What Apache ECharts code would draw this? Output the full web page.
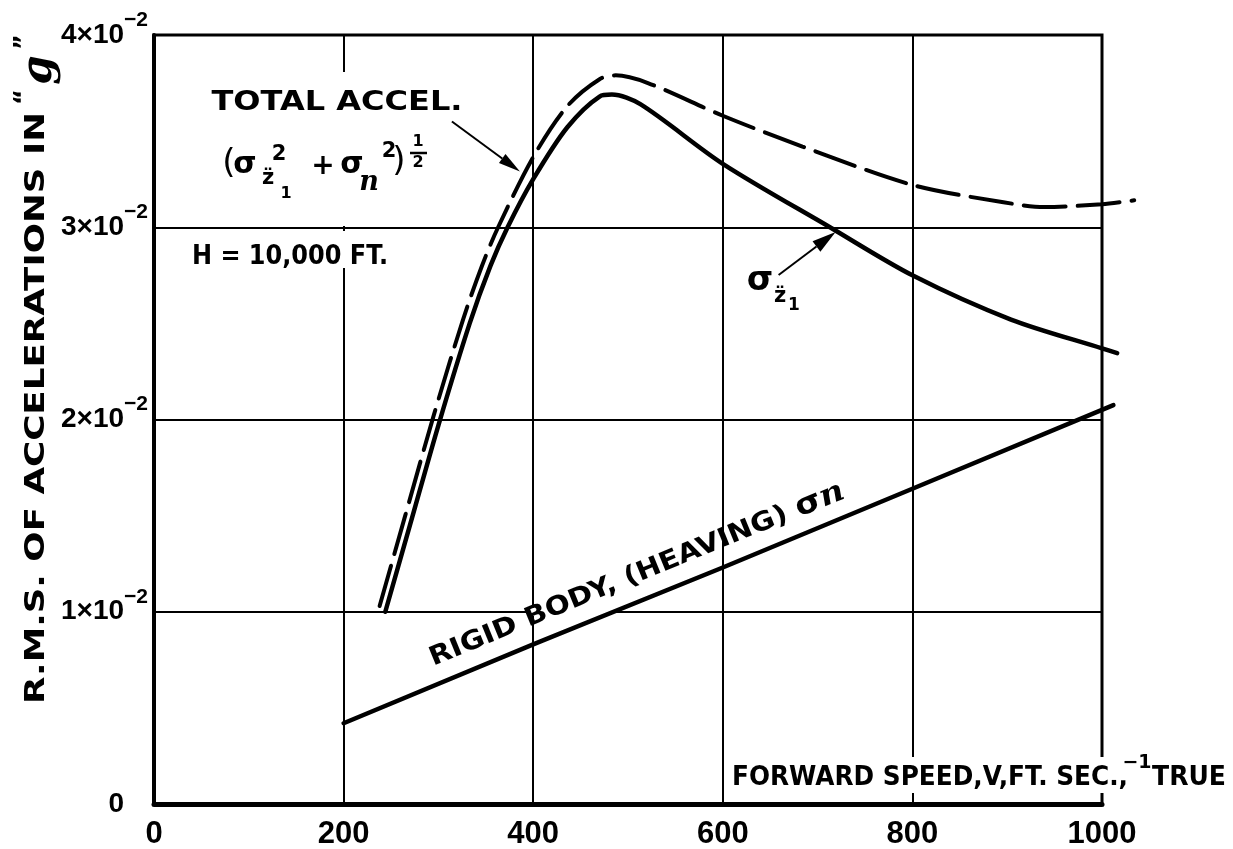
<!DOCTYPE html>
<html>
<head>
<meta charset="utf-8">
<script src="https://cdn.jsdelivr.net/npm/echarts/dist/echarts.min.js"></script>
<style>
  html, body { margin: 0; padding: 0; background: #fff; }
  #chart { width: 1233px; height: 849px; }
</style>
</head>
<body>
<div id="chart"></div>
<script>
// R.M.S. accelerations against forward speed, H = 10,000 ft.
// Speeds in ft/sec (true), accelerations in units of 10^-2 g.
const speedTicks = [0, 200, 400, 600, 800, 1000];
const accelTicks = [0, 1, 2, 3, 4];
// the curves run on a little past the 1000 ft/sec frame line
const curveSpeedMax = 1040;

// total acceleration (sigma_z1^2 + sigma_n^2)^(1/2), dashed
const totalAccel = [
  [238, 1.03], [265, 1.50], [295, 2.02], [326, 2.52], [346, 2.80], [363, 3.00],
  [400, 3.365], [436, 3.63], [470, 3.77], [487, 3.79], [521, 3.75], [600, 3.58],
  [684, 3.42], [800, 3.22], [896, 3.13], [939, 3.105], [1000, 3.12], [1034, 3.14]
];
// sigma of z1 double-dot, solid
const sigmaZ1 = [
  [244, 1.00], [270, 1.45], [300, 1.97], [333, 2.50], [355, 2.80], [373, 3.00],
  [400, 3.25], [436, 3.52], [470, 3.68], [483, 3.69], [513, 3.64], [600, 3.33],
  [713, 3.00], [800, 2.75], [904, 2.52], [1000, 2.37], [1016, 2.345]
];
// rigid body (heaving) sigma_n
const rigidBody = [
  [200, 0.42], [400, 0.83], [600, 1.23], [800, 1.64], [1012, 2.075]
];

const INK = '#000';
const SANS = '"DejaVu Sans"';
const SERIF = '"DejaVu Serif"';
const TICK_FONT = '"Liberation Sans"';

const PLOT_LEFT = 154, PLOT_TOP = 35, PLOT_BOTTOM = 45, PLOT_RIGHT = 131;
const plotWidth = 1233 - PLOT_LEFT - PLOT_RIGHT;
const curveRight = 1233 - PLOT_LEFT - plotWidth * curveSpeedMax / speedTicks[speedTicks.length - 1];

const chart = echarts.init(document.getElementById('chart'), null, { renderer: 'canvas' });

const measureCtx = document.createElement('canvas').getContext('2d');
function measure(str, font) { measureCtx.font = font; return measureCtx.measureText(str).width; }

// centred text; optional width stretches the lettering along its baseline
function label(str, cx, cy, size, o = {}) {
  const font = (o.italic ? 'italic ' : '') + (o.light ? '' : 'bold ') + size + 'px ' + (o.family || SANS);
  const sx = o.width ? o.width / measure(str, font) : 1;
  return {
    type: 'text', x: cx, y: cy, rotation: o.rotation || 0, scaleX: sx, z: 5,
    style: {
      text: str, font: font, fill: INK,
      align: 'center', verticalAlign: 'middle', textAlign: 'center', textVerticalAlign: 'middle'
    }
  };
}

function whiteout(x, y, w, h) {
  return { type: 'rect', shape: { x: x, y: y, width: w, height: h }, z: 1, style: { fill: '#fff' } };
}

function arrow(tip, dx, dy, headLen, headW) {
  const len = Math.hypot(dx, dy);
  const ux = dx / len, uy = dy / len;
  const bx = tip[0] - ux * headLen, by = tip[1] - uy * headLen;
  return [
    { type: 'line', z: 6, shape: { x1: tip[0] - dx, y1: tip[1] - dy, x2: bx, y2: by },
      style: { stroke: INK, lineWidth: 2 } },
    { type: 'polygon', z: 6, shape: { points: [
        [tip[0], tip[1]],
        [bx - uy * headW / 2, by + ux * headW / 2],
        [bx + uy * headW / 2, by - ux * headW / 2]
      ] }, style: { fill: INK } }
  ];
}

const curveAxisX = { type: 'value', gridIndex: 1, min: 0, max: curveSpeedMax, show: false };
const curveAxisY = { type: 'value', gridIndex: 1, min: accelTicks[0], max: accelTicks[accelTicks.length - 1], show: false };

chart.setOption({
  animation: false,
  backgroundColor: '#fff',
  grid: [
    {
      left: PLOT_LEFT, right: PLOT_RIGHT, top: PLOT_TOP, bottom: PLOT_BOTTOM,
      show: true, borderColor: INK, borderWidth: 3, outerBoundsMode: 'none'
    },
    // same scale, widened so the curve ends are not cut at the frame
    {
      left: PLOT_LEFT, right: curveRight, top: PLOT_TOP, bottom: PLOT_BOTTOM,
      show: false, outerBoundsMode: 'none'
    }
  ],
  xAxis: [
    {
      type: 'value', gridIndex: 0, min: speedTicks[0], max: speedTicks[speedTicks.length - 1], interval: 200,
      axisLine: { lineStyle: { color: INK, width: 5 } },
      axisTick: { show: false },
      splitLine: { lineStyle: { color: INK, width: 2 } },
      axisLabel: {
        color: INK, fontFamily: TICK_FONT, fontWeight: 'bold', fontSize: 31, margin: 15,
        formatter: v => speedTicks.includes(v) ? String(v) : ''
      }
    },
    curveAxisX
  ],
  yAxis: [
    {
      type: 'value', gridIndex: 0, min: accelTicks[0], max: accelTicks[accelTicks.length - 1], interval: 1,
      axisLine: { lineStyle: { color: INK, width: 4 } },
      axisTick: { show: false },
      splitLine: { lineStyle: { color: INK, width: 2 } },
      axisLabel: {
        margin: 6,
        formatter: v => v === 0 ? '{z|0}' : '{m|' + v + '×10}{s|−2}',
        rich: {
          m: { color: INK, fontFamily: TICK_FONT, fontWeight: 'bold', fontSize: 28, lineHeight: 28 },
          s: { color: INK, fontFamily: TICK_FONT, fontWeight: 'bold', fontSize: 21, lineHeight: 21, padding: [0, 0, 30, 0] },
          z: { color: INK, fontFamily: TICK_FONT, fontWeight: 'bold', fontSize: 28, lineHeight: 28, padding: [0, 24, 0, 0] }
        }
      }
    },
    curveAxisY
  ],
  series: [
    {
      name: 'Total accel.', type: 'line', xAxisIndex: 1, yAxisIndex: 1, data: totalAccel,
      smooth: 0.3, symbol: 'none',
      lineStyle: { color: INK, width: 4, type: [42, 12], cap: 'round' }, z: 3
    },
    {
      name: 'σz1', type: 'line', xAxisIndex: 1, yAxisIndex: 1, data: sigmaZ1,
      smooth: 0.3, symbol: 'none',
      lineStyle: { color: INK, width: 4.5, cap: 'round' }, z: 3
    },
    {
      name: 'Rigid body', type: 'line', xAxisIndex: 1, yAxisIndex: 1, data: rigidBody,
      smooth: false, symbol: 'none',
      lineStyle: { color: INK, width: 4.5, cap: 'round', join: 'round' }, z: 3
    }
  ]
});

// annotations: lettering, arrows pointing at the curves
const px = p => chart.convertToPixel({ gridIndex: 0 }, p);
const totalTip = px([386, 3.29]);
const sigmaTip = px([719, 2.975]);

const rigidRich = {
  a: { fontSize: 26, fontFamily: 'DejaVu Sans', fontWeight: 'bold', fill: INK },
  s: { fontSize: 30, fontFamily: 'DejaVu Sans', fontWeight: 'bold', fill: INK },
  n: { fontSize: 30, fontFamily: 'DejaVu Serif', fontStyle: 'italic', fontWeight: 'bold', fill: INK }
};
const rigidW = measure('RIGID BODY, (HEAVING) ', 'bold 26px ' + SANS) + measure('σ', 'bold 30px ' + SANS) +
  measure('n', 'italic bold 30px ' + SERIF);
const rigidAngle = Math.atan2(169, 413);

const elements = [
  // gaps in the grid behind lettering
  whiteout(337, 72, 10, 154),
  whiteout(337, 231, 10, 37),
  whiteout(528, 608, 88, 8),
  whiteout(727, 757, 505, 36),

  label('TOTAL ACCEL.', 337, 103, 27, { width: 251 }),
  // (σ_z̈1^2 + σ_n^2)^(1/2)
  label('(', 229, 164, 34, { light: true }),
  label('σ', 245, 165, 30),
  label('2', 279, 155, 21),
  label('z\u0308', 268, 179, 21),
  label('1', 286, 194, 16),
  label('+', 323, 167, 28),
  label('σ', 352, 165, 30),
  label('n', 369, 183, 27, { family: SERIF, italic: true }),
  label('2', 389, 152, 21),
  label(')', 399, 162, 34, { light: true }),
  label('1', 418, 142, 16),
  { type: 'line', z: 5, shape: { x1: 410, y1: 153, x2: 427, y2: 153 }, style: { stroke: INK, lineWidth: 2.5 } },
  label('2', 418, 163, 16),

  label('H = 10,000 FT.', 290, 257, 27, { width: 196 }),

  // σ_z̈1 beside the solid curve
  label('σ', 760, 281, 34),
  label('z\u0308', 780, 297, 21),
  label('1', 794, 306, 17),

  // along the rigid-body line
  {
    type: 'text', x: 637, y: 575, rotation: rigidAngle, scaleX: 446 / rigidW, z: 5,
    style: {
      text: '{a|RIGID BODY, (HEAVING) }{s|σ}{n|n}', rich: rigidRich, fill: INK,
      align: 'center', verticalAlign: 'middle', textAlign: 'center', textVerticalAlign: 'middle'
    }
  },

  // x-axis title
  label('FORWARD SPEED,V,FT. SEC.,', 930, 778, 27, { width: 396 }),
  label('−1', 1137, 763, 19),
  label('TRUE', 1189, 778, 27, { width: 74 }),

  // y-axis title
  label('R.M.S. OF ACCELERATIONS IN', 37, 408, 27, { width: 592, rotation: Math.PI / 2 }),
  label('“', 25, 97, 24, { rotation: Math.PI / 2 }),
  label('g', 40, 70, 42, { family: SERIF, italic: true, rotation: Math.PI / 2 }),
  label('”', 25, 42, 24, { rotation: Math.PI / 2 })
]
  .concat(arrow(totalTip, 68, 50, 22, 11))
  .concat(arrow(sigmaTip, 57, -43, 24, 13));

chart.setOption({ graphic: { elements: elements } });
</script>
</body>
</html>
